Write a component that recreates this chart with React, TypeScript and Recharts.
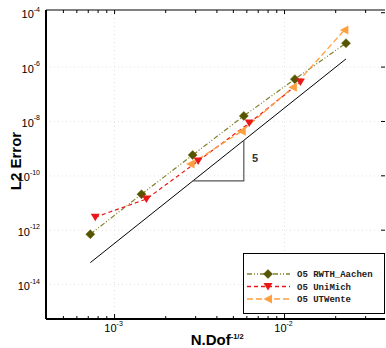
import React from 'react';
import { ComposedChart, Line, XAxis, YAxis, ReferenceLine, ReferenceDot, Legend } from 'recharts';

// ---- data ----
const rwthX = [7.2e-4, 1.44e-3, 2.88e-3, 5.76e-3, 1.15e-2, 2.3e-2];
const rwthY = [7.1e-13, 2.1e-11, 5.8e-10, 1.6e-8, 3.6e-7, 7.6e-6];
const uniX = [7.7e-4, 1.54e-3, 3.1e-3, 6.2e-3, 1.24e-2];
const uniY = [3.0e-12, 1.4e-11, 3.5e-10, 8.7e-9, 2.8e-7];
const utwX = [2.8e-3, 5.6e-3, 1.12e-2, 2.25e-2];
const utwY = [2.7e-10, 4.4e-9, 1.8e-7, 2.3e-5];
const slopeX = [7.2e-4, 2.3e-2];
const slopeY = [6.4e-14, 2.0e-6];
const triX = [2.88e-3, 5.76e-3, 5.76e-3];
const triY = [6.5e-11, 6.5e-11, 2.1e-9];
const slopeLabel = '5';
const slopeLabelPos = { x: 6.7e-3, y: 4.5e-10 };

const xMajor = [1e-3, 1e-2];
const xMinor = [5e-4, 6e-4, 7e-4, 8e-4, 9e-4, 2e-3, 3e-3, 4e-3, 5e-3, 6e-3, 7e-3, 8e-3, 9e-3, 2e-2, 3e-2];
const xMajorLabels = ['-3', '-2'];
const yMajor = [1e-14, 1e-12, 1e-10, 1e-8, 1e-6, 1e-4];
const yMajorLabels = ['-14', '-12', '-10', '-8', '-6', '-4'];
const yGrid = [1e-14, 1e-12, 1e-10, 1e-8, 1e-6];

const seriesNames = ['O5 RWTH_Aachen', 'O5 UniMich', 'O5 UTWente'];
const xTitle = 'N.Dof';
const xTitleSup = '-1/2';
const yTitle = 'L2 Error';

const X_DOMAIN: [number, number] = [3.95e-4, 3.9e-2];
const Y_DOMAIN: [number, number] = [5.4e-16, 1.26e-4];

const zip = (xs: number[], ys: number[]) => xs.map((x, i) => ({ x, y: ys[i] }));
const rwthData = zip(rwthX, rwthY);
const uniData = zip(uniX, uniY);
const utwData = zip(utwX, utwY);
const slopeData = zip(slopeX, slopeY);
const triData = zip(triX, triY);

const OLIVE_M = '#555500';
const OLIVE_L = '#80802a';
const RED = '#e81818';
const ORANGE = '#ffa040';
const FONT = '"Liberation Sans", Arial, sans-serif';

const allXTicks = [...xMinor, ...xMajor].sort((a, b) => a - b);
const isMajorX = (v: number) => xMajor.some((m) => Math.abs(m - v) / m < 1e-6);

// ---- markers ----
const Diamond = ({ cx, cy, fill }: any) =>
  cx == null ? null : (
    <path d={`M${cx},${cy - 4.5}L${cx + 4.5},${cy}L${cx},${cy + 4.5}L${cx - 4.5},${cy}Z`} fill={fill} stroke={fill} strokeWidth={0.5} />
  );
const TriDown = ({ cx, cy, fill }: any) =>
  cx == null ? null : (
    <path d={`M${cx - 4.5},${cy - 3.5}L${cx + 4.5},${cy - 3.5}L${cx},${cy + 4}Z`} fill={fill} />
  );
const TriLeft = ({ cx, cy, fill }: any) =>
  cx == null ? null : (
    <path d={`M${cx - 4.5},${cy}L${cx + 4},${cy - 4.5}L${cx + 4},${cy + 4.5}Z`} fill={fill} />
  );

// ---- ticks ----
const BottomTick = (props: any) => {
  const { x, y, payload, index } = props;
  const v = payload.value;
  const major = isMajorX(v);
  const idx = xMajor.findIndex((m) => Math.abs(m - v) / m < 1e-6);
  return (
    <g key={index}>
      <line x1={x} x2={x} y1={y} y2={y - (major ? 5 : 3)} stroke="#000" strokeWidth={1} />
      {major && (
        <text x={x - 1} y={y + 13} fontSize={11} fontFamily={FONT} textAnchor="middle" fill="#000">
          10<tspan dy={-6} fontSize={7}>{xMajorLabels[idx]}</tspan>
        </text>
      )}
    </g>
  );
};
const TopTick = (props: any) => {
  const { x, y, payload, index } = props;
  const major = isMajorX(payload.value);
  return <line key={index} x1={x} x2={x} y1={y} y2={y + (major ? 4 : 3)} stroke="#000" strokeWidth={1} />;
};
const LeftTick = (props: any) => {
  const { x, y, payload, index } = props;
  const i = yMajor.findIndex((m) => Math.abs(m - payload.value) / m < 1e-6);
  return (
    <text key={index} x={x - 6} y={y + 5.5} fontSize={11} fontFamily={FONT} textAnchor="end" fill="#000">
      10<tspan dy={-6.5} fontSize={7}>{yMajorLabels[i]}</tspan>
    </text>
  );
};
const RightTick = (props: any) => {
  const { x, y, index } = props;
  return <line key={index} x1={x} x2={x - 4} y1={y} y2={y} stroke="#000" strokeWidth={1} />;
};

// ---- legend ----
const legendRows = [
  { name: seriesNames[0], color: OLIVE_L, marker: OLIVE_M, dash: '5 2 1 2 1 2', M: Diamond },
  { name: seriesNames[1], color: RED, marker: RED, dash: '4 3', M: TriDown },
  { name: seriesNames[2], color: ORANGE, marker: ORANGE, dash: '6 3', M: TriLeft },
];
const LegendBox = () => (
  <div style={{ width: 142, height: 61, border: '1px solid #000', boxSizing: 'border-box', background: '#fff' }}>
    <svg width={140} height={59} style={{ display: 'block' }}>
      {legendRows.map((r, i) => {
        const cy = 20 + i * 12.5;
        return (
          <g key={r.name}>
            <line x1={3} x2={46} y1={cy} y2={cy} stroke={r.color} strokeWidth={1.3} strokeDasharray={r.dash} />
            <r.M cx={24} cy={cy} fill={r.marker} />
            <text x={53} y={cy + 3} fontSize={9} fontWeight="bold" fontFamily='"Courier New", "Liberation Mono", monospace' fill="#222">
              {r.name}
            </text>
          </g>
        );
      })}
    </svg>
  </div>
);

export default function App() {
  return (
    <div style={{ position: 'absolute', left: 0, top: 0, width: 386, height: 348, background: '#fff' }}>
      <ComposedChart width={386} height={348} margin={{ top: 0, right: 0, bottom: 0, left: 0 }}>
        <XAxis
          xAxisId="b"
          type="number"
          dataKey="x"
          scale="log"
          domain={X_DOMAIN}
          allowDataOverflow
          ticks={allXTicks}
          interval={0}
          orientation="bottom"
          height={29}
          tickSize={0}
          tickMargin={0}
          tickLine={false}
          axisLine={{ stroke: '#000', strokeWidth: 2 }}
          tick={<BottomTick />}
          label={{
            content: (p: any) => {
              const vb = p.viewBox;
              return (
                <text x={vb.x + 144.7} y={vb.y + 26} fontSize={15} fontWeight="bold" fontFamily={FONT} fill="#000">
                  {xTitle}
                  <tspan dy={-6} fontSize={7.5}>{xTitleSup}</tspan>
                </text>
              );
            },
          }}
        />
        <XAxis
          xAxisId="t"
          type="number"
          dataKey="x"
          scale="log"
          domain={X_DOMAIN}
          allowDataOverflow
          ticks={allXTicks}
          interval={0}
          orientation="top"
          height={10}
          tickSize={0}
          tickMargin={0}
          tickLine={false}
          axisLine={{ stroke: '#808080', strokeWidth: 2 }}
          tick={<TopTick />}
        />
        <YAxis
          yAxisId="l"
          type="number"
          dataKey="y"
          scale="log"
          domain={Y_DOMAIN}
          allowDataOverflow
          ticks={yMajor}
          interval={0}
          width={46}
          tickSize={0}
          tickMargin={0}
          tickLine={false}
          axisLine={{ stroke: '#000', strokeWidth: 2 }}
          tick={<LeftTick />}
          label={{
            content: (p: any) => (
              <text
                x={20.5}
                y={161}
                transform="rotate(-90 20.5 161)"
                textAnchor="middle"
                fontSize={15}
                fontWeight="bold"
                fontFamily={FONT}
                fill="#000"
              >
                {yTitle}
              </text>
            ),
          }}
        />
        <YAxis
          yAxisId="r"
          orientation="right"
          type="number"
          dataKey="y"
          scale="log"
          domain={Y_DOMAIN}
          allowDataOverflow
          ticks={yMajor}
          interval={0}
          width={1}
          tickSize={0}
          tickMargin={0}
          tickLine={false}
          axisLine={false}
          tick={<RightTick />}
        />
        {xMajor.map((v) => (
          <ReferenceLine key={'gx' + v} xAxisId="b" yAxisId="l" x={v} stroke="#e2e2e2" strokeDasharray="1 3" />
        ))}
        {yGrid.map((v) => (
          <ReferenceLine key={'gy' + v} xAxisId="b" yAxisId="l" y={v} stroke="#e2e2e2" strokeDasharray="1 3" />
        ))}
        <Line
          xAxisId="b"
          yAxisId="l"
          data={slopeData}
          dataKey="y"
          stroke="#000"
          strokeWidth={1}
          dot={false}
          isAnimationActive={false}
          legendType="none"
        />
        <Line
          xAxisId="b"
          yAxisId="l"
          data={triData}
          dataKey="y"
          stroke="#555"
          strokeWidth={1.2}
          dot={false}
          isAnimationActive={false}
          legendType="none"
        />
        <ReferenceDot
          xAxisId="b"
          yAxisId="l"
          x={slopeLabelPos.x}
          y={slopeLabelPos.y}
          r={0}
          fill="none"
          stroke="none"
          label={{ value: slopeLabel, position: 'center', fontSize: 11, fontWeight: 'bold', fontFamily: FONT, fill: '#333' }}
        />
        <Line
          xAxisId="b"
          yAxisId="l"
          name={seriesNames[0]}
          data={rwthData}
          dataKey="y"
          stroke={OLIVE_L}
          strokeWidth={1.2}
          strokeDasharray="5 2 1 2 1 2"
          dot={(p: any) => <Diamond key={p.index} cx={p.cx} cy={p.cy} fill={OLIVE_M} />}
          isAnimationActive={false}
        />
        <Line
          xAxisId="b"
          yAxisId="l"
          name={seriesNames[1]}
          data={uniData}
          dataKey="y"
          stroke={RED}
          strokeWidth={1.2}
          strokeDasharray="4 3"
          dot={(p: any) => <TriDown key={p.index} cx={p.cx} cy={p.cy} fill={RED} />}
          isAnimationActive={false}
        />
        <Line
          xAxisId="b"
          yAxisId="l"
          name={seriesNames[2]}
          data={utwData}
          dataKey="y"
          stroke={ORANGE}
          strokeWidth={1.3}
          strokeDasharray="6 3"
          dot={(p: any) => <TriLeft key={p.index} cx={p.cx} cy={p.cy} fill={ORANGE} />}
          isAnimationActive={false}
        />
        <Legend
          layout="vertical"
          align="center"
          verticalAlign="middle"
          wrapperStyle={{ left: 243, top: 253, width: 142, height: 61, margin: 0, padding: 0 }}
          content={() => <LegendBox />}
        />
      </ComposedChart>
    </div>
  );
}
